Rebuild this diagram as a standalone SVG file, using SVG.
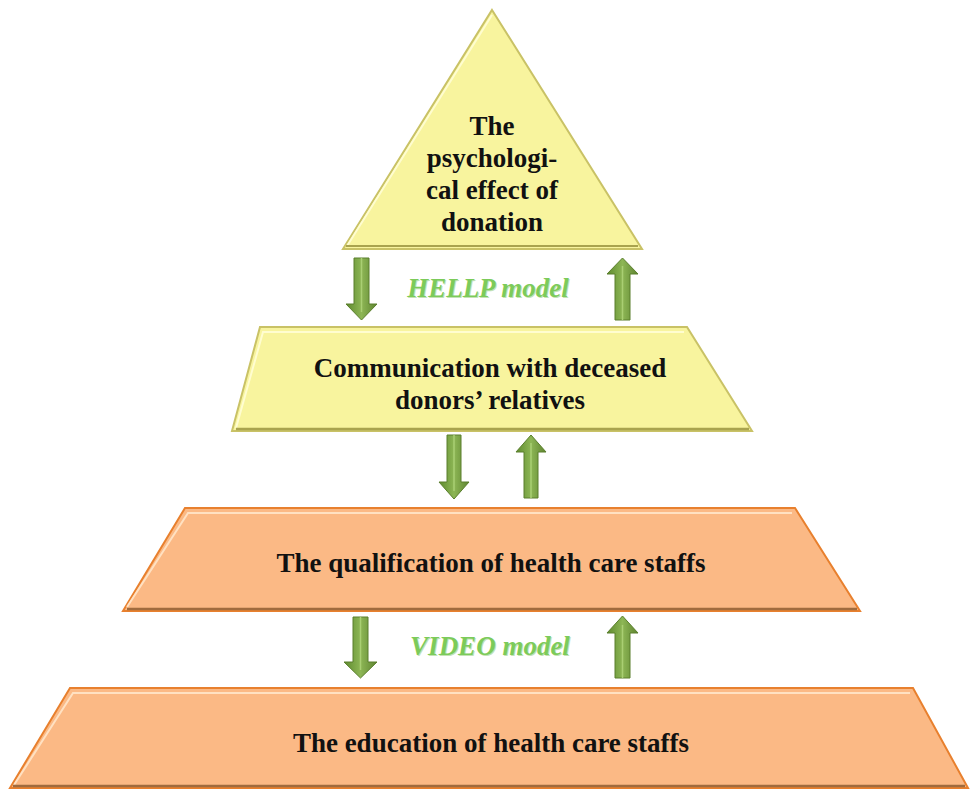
<svg xmlns="http://www.w3.org/2000/svg" width="970" height="789" viewBox="0 0 970 789">
<defs>
<style>
.t{font-family:"Liberation Serif","Times New Roman",serif;font-weight:bold;font-size:27px;fill:#111;text-anchor:middle}
.m{font-family:"Liberation Serif","Times New Roman",serif;font-weight:bold;font-style:italic;font-size:27px;fill:#7CCB5A;text-anchor:middle}
.ms{font-family:"Liberation Serif","Times New Roman",serif;font-weight:bold;font-style:italic;font-size:27px;fill:#C4E2B4;text-anchor:middle}
.yel{fill:#F8F49E}
.ora{fill:#FBB985}
</style>
<linearGradient id="ga" x1="0" y1="0" x2="1" y2="0">
<stop offset="0" stop-color="#5E8A2E"/><stop offset="0.5" stop-color="#8DB655"/><stop offset="1" stop-color="#5E8430"/>
</linearGradient>
</defs>

<g id="connectors">
<g id="arrow-down-1"><path d="M354,258 H369 V304 H377 L361.5,320 L346,304 H354 Z" fill="url(#ga)" stroke="#5A7F2C" stroke-width="1"/><path d="M361.5,258 V312" stroke="#A9CF73" stroke-width="1.5"/></g>
<g id="arrow-up-1"><path d="M615,320 H630 V274 H638 L622.5,258 L607,274 H615 Z" fill="url(#ga)" stroke="#5A7F2C" stroke-width="1"/><path d="M622.5,320 V266" stroke="#A9CF73" stroke-width="1.5"/></g>
<g id="arrow-down-2"><path d="M447,435 H461 V482 H469 L454,499 L439,482 H447 Z" fill="url(#ga)" stroke="#5A7F2C" stroke-width="1"/><path d="M454,435 V491" stroke="#A9CF73" stroke-width="1.5"/></g>
<g id="arrow-up-2"><path d="M524,498 H538 V452 H546 L531,435 L516,452 H524 Z" fill="url(#ga)" stroke="#5A7F2C" stroke-width="1"/><path d="M531,498 V443" stroke="#A9CF73" stroke-width="1.5"/></g>
<g id="arrow-down-3"><path d="M353,617 H368 V662 H377 L360.5,678 L344,662 H353 Z" fill="url(#ga)" stroke="#5A7F2C" stroke-width="1"/><path d="M360.5,617 V670" stroke="#A9CF73" stroke-width="1.5"/></g>
<g id="arrow-up-3"><path d="M615,678 H630 V633 H638 L622.5,616 L607,633 H615 Z" fill="url(#ga)" stroke="#5A7F2C" stroke-width="1"/><path d="M622.5,678 V625" stroke="#A9CF73" stroke-width="1.5"/></g>
<text class="ms" x="489" y="298">HELLP model</text>
<text class="m" x="488" y="297">HELLP model</text>
<text class="ms" x="491" y="656">VIDEO model</text>
<text class="m" x="490" y="655">VIDEO model</text>
</g>

<g id="node-top">
<polygon points="492,10 642,249 343,249" class="yel" stroke="#C9C266" stroke-width="2"/>
<polyline points="347,246 492,15" fill="none" stroke="#FFFDD0" stroke-width="2"/>
<polyline points="346,246 638,246" fill="none" stroke="#A9A34E" stroke-width="2"/>
<text class="t" x="492" y="135">The</text>
<text class="t" x="492" y="167">psychologi-</text>
<text class="t" x="492" y="199">cal effect of</text>
<text class="t" x="492" y="231">donation</text>
</g>

<g id="node-communication">
<polygon points="260,327 687,327 752,431 232,431" class="yel" stroke="#C9C266" stroke-width="2"/>
<polyline points="236,428 263,332 684,332" fill="none" stroke="#FFFDD0" stroke-width="2"/>
<polyline points="236,429 749,429" fill="none" stroke="#A9A34E" stroke-width="2.5"/>
<text class="t" x="490" y="377">Communication with deceased</text>
<text class="t" x="490" y="409">donors’ relatives</text>
</g>

<g id="node-qualification">
<polygon points="185,508 795,508 860,611 123,611" class="ora" stroke="#E8802E" stroke-width="2"/>
<polyline points="127,607 188,513 792,513" fill="none" stroke="#FFE1C2" stroke-width="2"/>
<polyline points="127,609 857,609" fill="none" stroke="#A06B3E" stroke-width="2.5"/>
<text class="t" x="491" y="572">The qualification of health care staffs</text>
</g>

<g id="node-education">
<polygon points="70,688 913,688 968,788 10,788" class="ora" stroke="#E8802E" stroke-width="2"/>
<polyline points="14,785 73,693 910,693" fill="none" stroke="#FFE1C2" stroke-width="2"/>
<polyline points="13,786 965,786" fill="none" stroke="#A06B3E" stroke-width="2.5"/>
<text class="t" x="491" y="752">The education of health care staffs</text>
</g>
</svg>
